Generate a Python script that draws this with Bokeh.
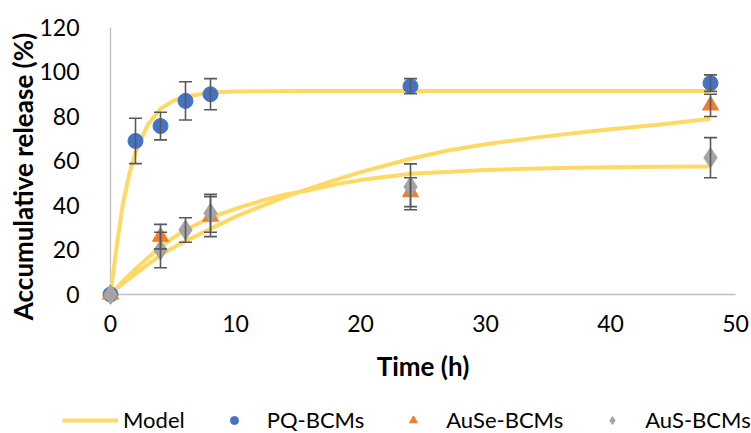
from bokeh.plotting import figure
from bokeh.models import Range1d, Whisker, ColumnDataSource, Legend, LegendItem, TeeHead, FixedTicker
from bokeh.embed import file_html
from bokeh.resources import INLINE

# ---- data ----
time_pq = [0, 2, 4, 6, 8, 24, 48]
pq = [0, 69, 75.7, 87, 90, 93.6, 95]
pq_err = [0, 10.2, 6.2, 8.6, 7, 3.4, 3.7]

time_ause = [0, 4, 8, 24, 48]
ause = [0, 26, 35, 46, 85]
ause_err = [0, 5.5, 9, 6.5, 5]

time_aus = [0, 4, 6, 8, 24, 48]
aus = [0, 20, 29, 36.5, 48.4, 61.5]
aus_err = [0, 8, 5.5, 8.5, 10.3, 9]

model_pq_t = [0, 0.5, 1, 1.5, 2, 3, 4, 5, 6, 8, 10, 12, 16, 24, 36, 48]
model_pq = [0, 22, 41, 54, 64, 76.5, 83.5, 87, 89, 90.8, 91.2, 91.4, 91.5, 91.5, 91.5, 91.5]

model_aus_t = [0, 1, 2, 3, 4, 5, 6, 8, 10, 12, 14, 16, 18, 20, 24, 30, 36, 40, 44, 48]
model_aus = [0, 6, 11.5, 16.5, 21.3, 25.5, 29, 34.6, 38.5, 42, 45, 47, 49.5, 51.5, 54.3,
             56, 56.9, 57.2, 57.4, 57.5]

model_ause_t = [0, 1, 2, 3, 4, 5, 6, 8, 10, 12, 14, 16, 18, 20, 24, 27, 30, 34, 37, 40, 44, 48]
model_ause = [0, 5, 9.3, 13.5, 17.7, 21, 24, 29.5, 35, 39.5, 44, 47.8, 51.5, 55, 61, 64.7,
              67.5, 70.5, 72.5, 74.3, 76.4, 79]

x_ticks = [0, 10, 20, 30, 40, 50]
y_ticks = [0, 20, 40, 60, 80, 100, 120]

FONT = "Lato"
LINE_C = "#FFD966"
BLUE = "#4472C4"
ORANGE = "#ED7D31"
GRAY = "#A5A5A5"
ERR_C = "#595959"
AXIS_C = "#BFBFBF"

W, H = 751, 433
# the frame covers the whole canvas; axes are pinned at the data zero
p = figure(width=W, height=H, output_backend="svg", toolbar_location=None,
           x_range=Range1d(-8.8, 51.28), y_range=Range1d(-62.47, 132.13),
           min_border_left=0, min_border_right=0, min_border_top=0, min_border_bottom=0)
p.frame_width = W
p.frame_height = H
p.outline_line_color = None
p.grid.visible = False
p.background_fill_color = "white"

# axis lines
p.segment(x0=[x_ticks[0]], y0=[y_ticks[0]], x1=[x_ticks[-1]], y1=[y_ticks[0]],
          line_color=AXIS_C, line_width=1.3)
p.segment(x0=[x_ticks[0]], y0=[y_ticks[0]], x1=[x_ticks[0]], y1=[y_ticks[-1]],
          line_color=AXIS_C, line_width=1.3)

# model curves
m1 = p.line(model_pq_t, model_pq, line_color=LINE_C, line_width=4)
p.line(model_aus_t, model_aus, line_color=LINE_C, line_width=4)
p.line(model_ause_t, model_ause, line_color=LINE_C, line_width=4)


def add_err(ts, vs, es):
    xs, up, lo = [], [], []
    for t, v, e in zip(ts, vs, es):
        if e > 0:
            xs.append(t)
            up.append(v + e)
            lo.append(v - e)
    src = ColumnDataSource(dict(x=xs, upper=up, lower=lo))
    w = Whisker(source=src, base="x", upper="upper", lower="lower", dimension="height",
                line_color=ERR_C, line_width=1.6,
                upper_head=TeeHead(size=13, line_color=ERR_C, line_width=1.6),
                lower_head=TeeHead(size=13, line_color=ERR_C, line_width=1.6))
    w.level = "overlay"
    p.add_layout(w)


add_err(time_pq, pq, pq_err)
add_err(time_ause, ause, ause_err)
add_err(time_aus, aus, aus_err)

r_pq = p.scatter(time_pq, pq, marker="circle", size=15, fill_color=BLUE, line_color=BLUE)
r_ause = p.scatter(time_ause, ause, marker="triangle", size=16, fill_color=ORANGE, line_color=ORANGE)
r_aus = p.scatter(time_aus, aus, marker="diamond", size=20, fill_color=GRAY, line_color=GRAY)

# axes
for ax in (p.xaxis, p.yaxis):
    ax.fixed_location = 0
    ax.major_tick_line_color = None
    ax.minor_tick_line_color = None
    ax.axis_line_color = None
    ax.major_label_text_font = FONT
    ax.major_label_text_font_size = "23px"
    ax.major_label_text_color = "#000000"
    ax.axis_label_text_font = FONT
    ax.axis_label_text_font_style = "bold"
    ax.axis_label_text_font_size = "26px"
    ax.axis_label_text_color = "#000000"

p.xaxis.bounds = (x_ticks[0], x_ticks[-1])
p.xaxis.ticker = FixedTicker(ticks=x_ticks)
p.xaxis.major_label_standoff = 15
p.xaxis.axis_label = "Time (h)"
p.xaxis.axis_label_standoff = 14

# bounds extended below zero only to shift the title's centre as in the reference
p.yaxis.bounds = (-14, y_ticks[-1])
p.yaxis.ticker = FixedTicker(ticks=y_ticks)
p.yaxis.major_label_standoff = 25
p.yaxis.axis_label = "Accumulative release (%)"
p.yaxis.axis_label_standoff = -3

legend = Legend(items=[LegendItem(label="Model", renderers=[m1]),
                       LegendItem(label="PQ-BCMs", renderers=[r_pq]),
                       LegendItem(label="AuSe-BCMs", renderers=[r_ause]),
                       LegendItem(label="AuS-BCMs", renderers=[r_aus])],
                orientation="horizontal", location=(62, 0),
                glyph_width=56, glyph_height=20, label_standoff=5, spacing=21,
                padding=0, margin=0, border_line_color=None, background_fill_alpha=0,
                label_text_font=FONT, label_text_font_size="22px", label_text_color="#000000")
p.add_layout(legend, "center")

open("out.html", "w").write(file_html(p, INLINE))
